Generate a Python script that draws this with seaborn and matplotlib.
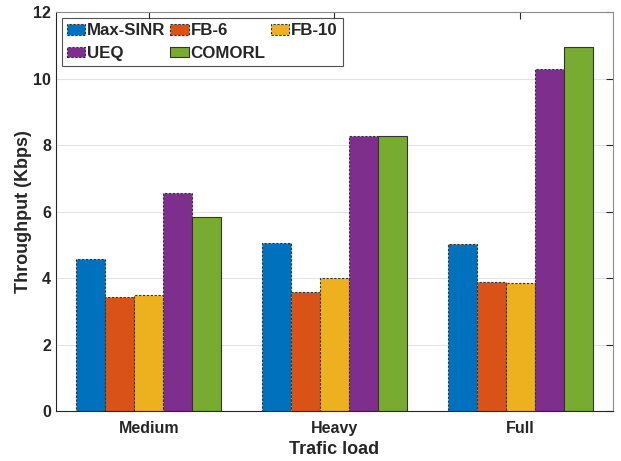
"""Throughput by traffic load, grouped bar chart (MATLAB-style look)."""

import matplotlib

matplotlib.use("Agg")
import matplotlib.pyplot as plt
import pandas as pd
import seaborn as sns


LOADS = ["Medium", "Heavy", "Full"]
METHODS = ["Max-SINR", "FB-6", "FB-10", "UEQ", "COMORL"]

MAX_SINR = [4.57, 5.06, 5.04]
FB_6 = [3.42, 3.58, 3.88]
FB_10 = [3.48, 4.01, 3.86]
UEQ = [6.55, 8.28, 10.28]
COMORL = [5.85, 8.26, 10.96]

COLORS = ["#0072BD", "#D95319", "#EDB120", "#7E2F8E", "#77AC30"]
Y_TICKS = [0, 2, 4, 6, 8, 10, 12]


def build_frame() -> pd.DataFrame:
    """시리즈 리스트를 seaborn용 long format으로 바꿉니다."""
    series = [MAX_SINR, FB_6, FB_10, UEQ, COMORL]
    rows = []
    for method, values in zip(METHODS, series):
        for load, value in zip(LOADS, values):
            rows.append({"load": load, "method": method, "throughput": value})
    return pd.DataFrame(rows)


def main() -> None:
    sns.set_style("white")
    plt.rcParams["font.family"] = ["Liberation Sans", "DejaVu Sans"]
    plt.rcParams["font.weight"] = "bold"

    df = build_frame()

    fig = plt.figure(figsize=(6.21, 4.61), dpi=100)
    ax = fig.add_axes([0.090, 0.108, 0.897, 0.866])

    sns.barplot(
        data=df,
        x="load",
        y="throughput",
        hue="method",
        order=LOADS,
        hue_order=METHODS,
        palette=COLORS,
        width=0.78,
        saturation=1,
        ax=ax,
    )

    # 막대 테두리: 앞의 네 개는 점선, COMORL은 실선
    for i, container in enumerate(ax.containers):
        for bar in container:
            bar.set_edgecolor("#333333")
            bar.set_linewidth(0.8)
            bar.set_linestyle("-" if i == 4 else (0, (2, 1.5)))

    ax.set_xlim(-0.5, 2.5)
    ax.set_ylim(0, 12)
    ax.set_yticks(Y_TICKS)
    ax.yaxis.grid(True, color="#e3e3e3", linewidth=0.8)
    ax.set_axisbelow(True)

    ax.set_xlabel("Trafic load", fontsize=13, fontweight="bold", color="#262626", labelpad=4)
    ax.set_ylabel("Throughput (Kbps)", fontsize=13, fontweight="bold", color="#262626", labelpad=1)

    ax.tick_params(
        axis="both", direction="in", length=5, width=0.8, colors="#262626",
        labelsize=11.5, top=True, right=True,
    )
    ax.tick_params(axis="x", pad=7)
    for label in ax.get_xticklabels() + ax.get_yticklabels():
        label.set_fontweight("bold")

    for spine in ax.spines.values():
        spine.set_color("#262626")
        spine.set_linewidth(0.8)
    ax.spines["top"].set_color("#8c8c8c")
    ax.spines["right"].set_color("#8c8c8c")

    # MATLAB 범례처럼 행 우선 순서로 보이도록 핸들 순서를 바꿉니다.
    handles = [c.patches[0] for c in ax.containers]
    order = [0, 3, 1, 4, 2]
    legend = ax.legend(
        [handles[i] for i in order],
        [METHODS[i] for i in order],
        ncol=3,
        loc="upper left",
        bbox_to_anchor=(0.004, 0.993),
        prop={"weight": "bold", "size": 12.2},
        frameon=True,
        fancybox=False,
        handlelength=1.1,
        handleheight=0.6,
        handletextpad=0.1,
        columnspacing=0.3,
        labelspacing=0.45,
        borderpad=0.3,
        borderaxespad=0.2,
    )
    legend.get_frame().set_edgecolor("#262626")
    legend.get_frame().set_linewidth(0.8)

    fig.savefig("out.png", dpi=100)
    plt.close(fig)


if __name__ == "__main__":
    main()
